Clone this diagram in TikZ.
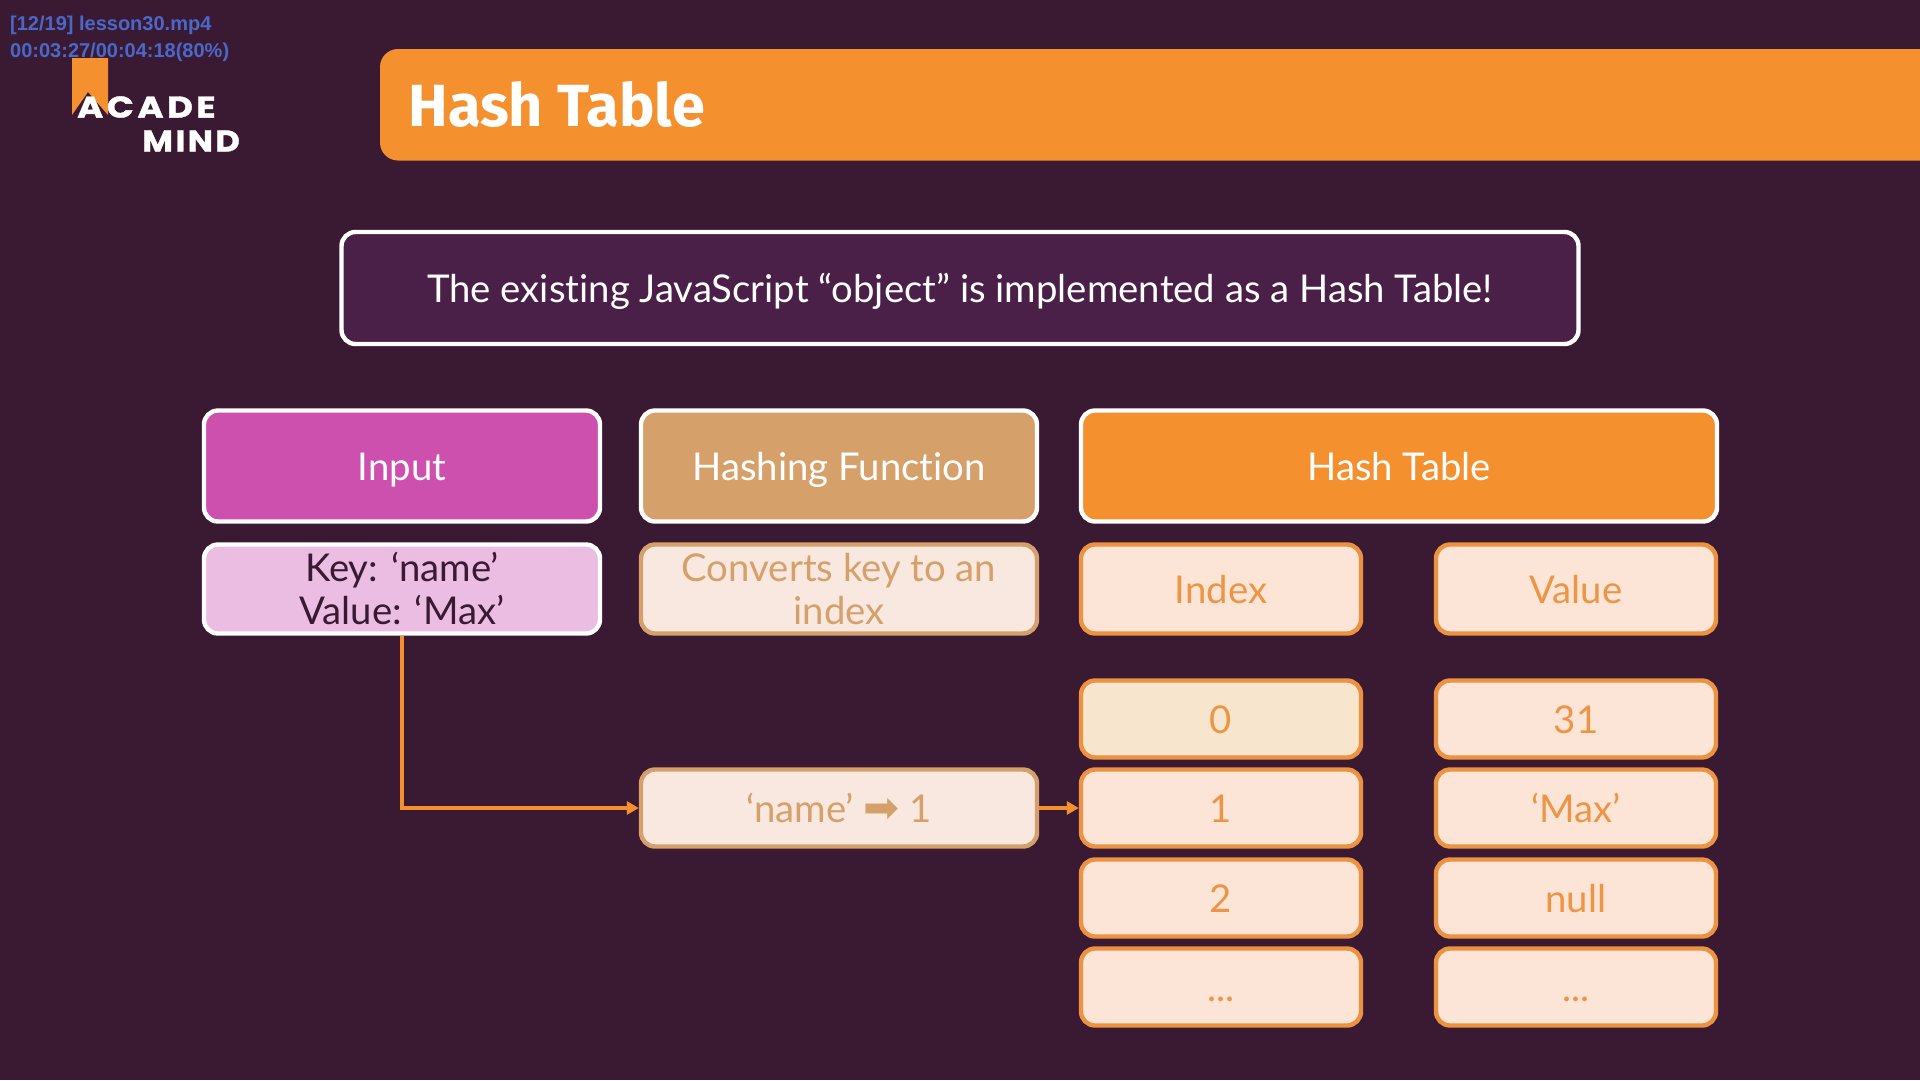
\documentclass[tikz,border=0pt]{standalone}
\usepackage{fontspec}
\setmainfont[Ligatures=NoCommon]{Lato}
\newfontfamily\titlefont{Fira Sans}
\newfontfamily\acadefont[LetterSpace=12,FakeStretch=1.18,FakeBold=1.2]{Poppins Bold}
\newfontfamily\mindfont[LetterSpace=8,FakeStretch=1.12,FakeBold=1.2]{Poppins Bold}
\newfontfamily\osdfont{Liberation Sans}
\usetikzlibrary{arrows.meta}
\definecolor{bgdark}{HTML}{3A1A33}
\definecolor{panel}{HTML}{4A2048}
\definecolor{brandorange}{HTML}{F4902E}
\definecolor{cellline}{HTML}{EC9240}
\definecolor{celltext}{HTML}{EC9545}
\definecolor{inputpink}{HTML}{CE50AE}
\definecolor{inputlight}{HTML}{EBBDE3}
\definecolor{hashtan}{HTML}{D6A06B}
\definecolor{hashlight}{HTML}{F9E8DF}
\definecolor{tablelight}{HTML}{FCE4D6}
\definecolor{rowzero}{HTML}{F7E5CE}
\definecolor{osdblue}{HTML}{4A68C8}
\tikzset{>={Triangle[length=12pt,width=13pt]},
  box/.style={rectangle,rounded corners=14pt,line width=4.4pt,inner sep=0pt,align=center,
    font=\fontsize{38.3}{43}\selectfont},
  oneline/.style={text height=30pt,text depth=2pt},
  headbox/.style={box,oneline,draw=white,text=white,minimum height=111pt},
  inputbox/.style={headbox,fill=inputpink,minimum width=396pt},
  hashbox/.style={headbox,fill=hashtan,minimum width=396pt},
  tablebox/.style={headbox,fill=brandorange,minimum width=636pt},
  keybox/.style={box,draw=white,fill=inputlight,text=bgdark,minimum width=396pt,minimum height=89pt},
  funcbox/.style={box,draw=hashtan,fill=hashlight,text=hashtan,minimum width=396pt},
  cellbox/.style={box,oneline,draw=cellline,fill=tablelight,text=celltext,minimum width=280pt,minimum height=77pt},
  flow/.style={->,draw=brandorange,line width=3.6pt}}
\begin{document}
\begin{tikzpicture}[x=1pt,y=-1pt]
\useasboundingbox[fill=bgdark] (0,0) rectangle (1920,1080);
% header
\fill[brandorange,rounded corners=18pt] (380,49) -- (1960,49) -- (1960,160.5) -- (380,160.5) -- cycle;
\node[text=white,font=\titlefont\bfseries\fontsize{59.5}{60}\selectfont,anchor=west] (title) at (405,104) {Hash Table};
% logo
\fill[brandorange] (72,58) -- (108,58) -- (108,115) -- (88,92) -- (72,115) -- cycle;
\node[text=white,font=\acadefont\fontsize{30}{30}\selectfont,anchor=west,inner sep=0pt] (acade) at (77,107) {ACADE};
\node[text=white,font=\mindfont\fontsize{30}{30}\selectfont,anchor=west,inner sep=0pt] (mind) at (142,141) {MIND};
\node[text=osdblue,font=\osdfont\bfseries\fontsize{20}{20}\selectfont,anchor=west,inner sep=0pt] (osdname) at (10,25) {[12/19] lesson30.mp4};
\node[text=osdblue,font=\osdfont\bfseries\fontsize{20}{20}\selectfont,anchor=west,inner sep=0pt] (osdtime) at (10,52) {00:03:27/00:04:18(80\%)};
% note
\node[box,oneline,draw=white,fill=panel,text=white,minimum width=1237pt,minimum height=112pt] (note) at (960,288)
  {The existing JavaScript “object” is implemented as a Hash Table!};
% columns
\node[inputbox] (input) at (402,466) {Input};
\node[hashbox] (hashfn) at (839,466) {Hashing Function};
\node[tablebox] (table) at (1399,466) {Hash Table};
\node[keybox] (keyval) at (402,589) {Key: ‘name’\\Value: ‘Max’};
\node[funcbox,minimum height=89pt] (convert) at (839,589) {Converts key to an\\index};
\node[cellbox,minimum height=89pt] (index) at (1221,589) {Index};
\node[cellbox,minimum height=89pt] (value) at (1576,589) {Value};
% rows
\node[cellbox,fill=rowzero] (idxzero) at (1221,719) {0};
\node[cellbox] (idxone) at (1221,808) {1};
\node[cellbox] (idxtwo) at (1221,898) {2};
\node[cellbox] (idxdots) at (1221,987) {...};
\node[cellbox] (valzero) at (1576,719) {31};
\node[cellbox] (valone) at (1576,808) {‘Max’};
\node[cellbox] (valtwo) at (1576,898) {null};
\node[cellbox] (valdots) at (1576,987) {...};
\node[funcbox,oneline,minimum height=77pt] (mapping) at (839,808) {‘name’ {\fontspec{DejaVu Sans}\fontsize{43}{43}\selectfont\char"27A1} 1};
% arrows
\draw[flow] (keyval) |- (mapping);
\path (mapping) edge[flow] (idxone);
\end{tikzpicture}
\end{document}
